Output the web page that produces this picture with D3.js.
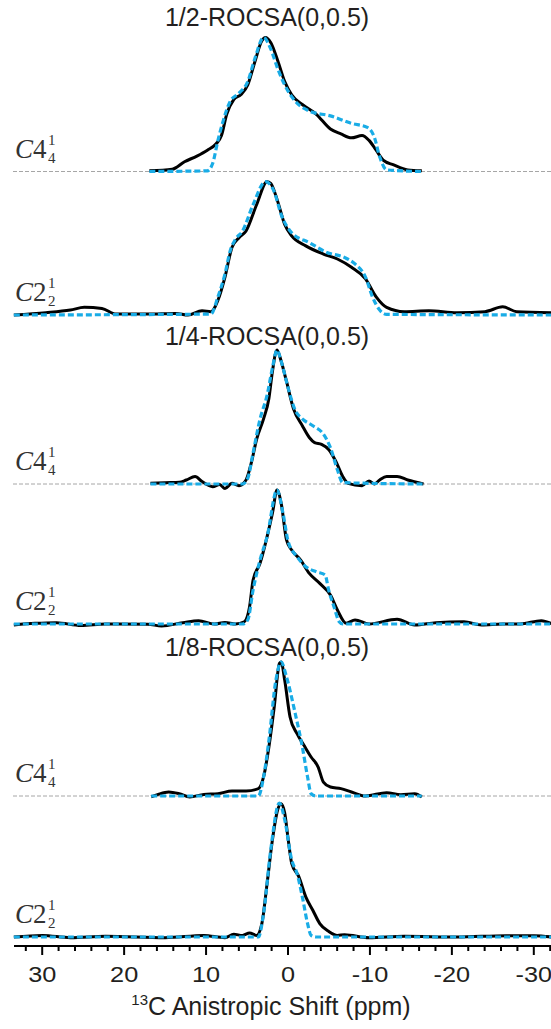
<!DOCTYPE html>
<html><head><meta charset="utf-8">
<script src="https://cdn.jsdelivr.net/npm/d3@7"></script>
<style>
html,body{margin:0;padding:0;background:#fff;}
svg{display:block;}
</style></head>
<body>
<svg id="chart" width="551" height="1029"></svg>
<script>
// ---------- DATA (ppm, normalised intensity) ----------
const titles = ["1/2-ROCSA(0,0.5)", "1/4-ROCSA(0,0.5)", "1/8-ROCSA(0,0.5)"];
const panelLabels = [["4","4","1"],["2","2","1"],["4","4","1"],["2","2","1"],["4","4","1"],["2","2","1"]];
const majorTicks = [30, 20, 10, 0, -10, -20, -30];
const minorTicks = [32,28,26,24,22,18,16,14,12,8,6,4,2,-2,-4,-6,-8,-12,-14,-16,-18,-22,-24,-26,-28,-32];
const xTitleSup = "13";
const xTitleMain = "C Anistropic Shift (ppm)";

const exp_half_C4 = [[16.86,0.005],[14.07,0.017],[12.57,0.073],[11.06,0.115],[9.78,0.159],[8.71,0.207],[8.06,0.268],[7.42,0.427],[6.56,0.537],[5.70,0.573],[4.85,0.646],[3.99,0.817],[3.13,0.976],[2.70,1.0],[2.05,0.963],[1.20,0.829],[0.34,0.671],[-0.51,0.573],[-1.81,0.5],[-3.52,0.427],[-5.24,0.317],[-6.52,0.28],[-7.81,0.251],[-9.10,0.268],[-9.95,0.232],[-10.82,0.159],[-11.67,0.085],[-12.96,0.049],[-14.68,0.012],[-16.39,0.005]];
const sim_half_C4 = [[16.86,0],[9.78,0.005],[9.13,0.061],[8.49,0.232],[7.85,0.378],[6.99,0.524],[5.92,0.585],[4.85,0.671],[3.99,0.841],[2.92,1.0],[2.05,0.915],[1.20,0.768],[0.34,0.646],[-0.95,0.524],[-2.66,0.451],[-5.24,0.415],[-7.81,0.359],[-9.74,0.329],[-10.6,0.256],[-11.25,0.11],[-12.1,0.012],[-16.39,0]];

const exp_half_C2 = [[33.4,0],[29.5,0.017],[26.5,0.037],[24.8,0.057],[22.65,0.049],[20.93,0.007],[17.07,0.007],[13.64,0.012],[12.14,0],[10.43,0.032],[9.35,0.025],[8.49,0.11],[7.63,0.283],[6.78,0.504],[5.92,0.577],[5.06,0.627],[3.77,0.823],[2.49,0.995],[2.05,0.983],[1.20,0.848],[0.34,0.676],[-0.51,0.59],[-2.23,0.516],[-4.38,0.455],[-6.09,0.418],[-7.81,0.356],[-9.52,0.27],[-10.82,0.135],[-12.1,0.057],[-14.25,0.025],[-17.25,0.032],[-20.68,0.017],[-24.1,0.025],[-26.26,0.061],[-27.97,0.025],[-32.3,0.017]];
const sim_half_C2 = [[33.4,0],[9.35,0.007],[8.49,0.135],[7.63,0.307],[6.99,0.48],[6.35,0.565],[5.49,0.627],[4.2,0.823],[2.7,0.995],[1.63,0.921],[0.77,0.749],[-0.51,0.614],[-2.66,0.54],[-4.81,0.467],[-6.95,0.43],[-8.24,0.381],[-9.52,0.283],[-10.37,0.135],[-11.25,0.037],[-12.1,0.005],[-32.3,0]];

const exp_quarter_C4 = [[16.73,0.005],[14.93,0.01],[13.21,0.013],[12.35,0.03],[11.28,0.056],[10.43,0.018],[9.13,-0.02],[8.28,-0.003],[7.63,-0.033],[6.78,0.005],[5.92,-0.013],[5.06,0.03],[4.42,0.157],[3.77,0.334],[2.92,0.486],[2.27,0.638],[1.84,0.84],[1.28,1.0],[0.77,0.916],[0.12,0.765],[-0.73,0.562],[-1.81,0.435],[-2.66,0.347],[-3.31,0.309],[-4.16,0.296],[-5.02,0.258],[-5.89,0.17],[-6.74,0.056],[-7.39,0.005],[-9.1,-0.013],[-9.95,0.023],[-10.6,0],[-11.25,0.03],[-12.1,0.056],[-13.38,0.056],[-14.68,0.03],[-16.6,0]];
const sim_quarter_C4 = [[16.73,0],[5.49,0],[4.85,0.043],[4.2,0.233],[3.35,0.486],[2.49,0.663],[1.84,0.866],[1.28,1.0],[0.77,0.916],[-0.09,0.714],[-0.95,0.549],[-1.81,0.486],[-3.09,0.435],[-4.38,0.372],[-5.24,0.271],[-6.09,0.106],[-6.74,0.01],[-16.6,0]];

const exp_quarter_C2 = [[33.4,-0.007],[30.8,0.005],[28.2,0.01],[25.2,-0.012],[22.2,0],[17.07,-0.002],[15.36,-0.015],[12.78,0.01],[10.85,0.025],[8.92,0],[7.63,0.012],[6.35,0],[5.27,0.017],[4.63,0.129],[4.2,0.328],[3.35,0.453],[2.49,0.652],[1.84,0.826],[1.28,1.0],[0.77,0.9],[0.12,0.627],[-0.51,0.552],[-1.59,0.478],[-2.66,0.378],[-3.94,0.303],[-5.24,0.216],[-6.09,0.104],[-7.17,0.005],[-8.24,0.03],[-9.95,0],[-13.38,0.035],[-15.53,-0.007],[-18.1,0.01],[-21.54,0.017],[-23.69,-0.007],[-26.26,0],[-28.4,0],[-30.98,0.025],[-32.3,0]];
const sim_quarter_C2 = [[33.4,0],[5.49,0],[4.85,0.03],[4.2,0.254],[3.35,0.478],[2.49,0.652],[1.28,1.0],[0.55,0.826],[-0.09,0.614],[-1.16,0.502],[-2.23,0.428],[-3.52,0.39],[-4.59,0.366],[-5.02,0.254],[-5.67,0.129],[-6.31,0.017],[-6.74,0],[-32.3,0]];

const exp_eighth_C4 = [[16.64,-0.007],[15.78,0.012],[14.5,0.03],[13.21,0.017],[11.93,-0.007],[10.21,0.012],[8.49,0.017],[6.78,0.037],[5.06,0.037],[3.55,0.055],[2.92,0.142],[2.27,0.366],[1.62,0.664],[0.99,0.988],[0.77,1.0],[0.34,0.863],[-0.31,0.59],[-1.16,0.465],[-2.01,0.378],[-2.88,0.291],[-3.74,0.216],[-4.38,0.104],[-5.24,0.067],[-6.52,0.055],[-7.81,0.03],[-9.52,0],[-12.1,0.025],[-13.82,0.01],[-15.53,0.017],[-16.39,-0.007]];
const sim_eighth_C4 = [[16.64,0],[3.55,0],[2.92,0.142],[2.27,0.415],[1.42,0.863],[0.77,1.0],[0.12,0.888],[-0.95,0.614],[-1.81,0.366],[-2.45,0.142],[-2.88,0.017],[-3.5,0],[-16.39,0]];

const exp_eighth_C2 = [[33.4,0],[29.9,0.012],[26.5,-0.005],[22.2,0.005],[14.93,-0.005],[10.21,0.012],[7.63,-0.005],[6.56,0.02],[5.49,0.012],[4.63,0.03],[3.77,0.012],[3.13,0.1],[2.49,0.4],[1.84,0.725],[1.2,0.95],[0.77,0.995],[0.34,0.925],[-0.09,0.725],[-0.51,0.55],[-1.38,0.45],[-2.23,0.3],[-3.09,0.2],[-3.94,0.1],[-5.02,0.042],[-6.09,0.012],[-6.95,0.017],[-9.95,-0.005],[-14.25,0.005],[-20.68,0],[-26.7,0.01],[-30.1,0.01],[-32.3,0]];
const sim_eighth_C2 = [[33.4,0],[3.55,0],[2.92,0.175],[2.05,0.65],[0.99,1.0],[0.34,0.875],[-0.51,0.575],[-1.16,0.475],[-1.81,0.3],[-2.45,0.1],[-2.88,0.012],[-3.5,0],[-32.3,0]];

const experimental = [exp_half_C4, exp_half_C2, exp_quarter_C4, exp_quarter_C2, exp_eighth_C4, exp_eighth_C2];
const simulated = [sim_half_C4, sim_half_C2, sim_quarter_C4, sim_quarter_C2, sim_eighth_C4, sim_eighth_C2];

// ---------- LAYOUT ----------
const W = 551, H = 1029;
const baselines = [171.5, 315, 484, 624, 796, 937];
const titleY = [26, 345, 656];
const panelH = 134;
const axisY = 946;
const svg = d3.select("#chart");

const x = d3.scaleLinear().domain([30, -30]).range([41.7, 533.3]);
const BLUE = "#19ace6";

// titles
svg.selectAll("text.title").data(titles).join("text")
  .attr("class", "title")
  .attr("x", 267).attr("y", (d, i) => titleY[i])
  .attr("text-anchor", "middle")
  .attr("font-family", "Liberation Sans, Arial, Helvetica, sans-serif")
  .attr("font-size", 25).attr("fill", "#231f20")
  .text(d => d);

experimental.forEach((exp, i) => {
  const b = baselines[i];
  const y = d3.scaleLinear().domain([0, 1]).range([b, b - panelH]);
  const g = svg.append("g");
  const isC4 = panelLabels[i][0] === "4";
  if (isC4) {
    g.append("line").attr("x1", 13).attr("x2", W).attr("y1", b).attr("y2", b)
      .attr("stroke", "#a6a6a6").attr("stroke-width", 1).attr("stroke-dasharray", "4,2");
  }
  const line = d3.line().x(d => x(d[0])).y(d => y(d[1])).curve(d3.curveMonotoneX);
  g.append("path").attr("d", line(exp)).attr("fill", "none")
    .attr("stroke", "#000").attr("stroke-width", 3).attr("stroke-linejoin", "round");
  g.append("path").attr("d", line(simulated[i])).attr("fill", "none")
    .attr("stroke", BLUE).attr("stroke-width", 3.2).attr("stroke-dasharray", "6,3");

  // label  C n_n^1
  const lab = panelLabels[i];
  const ly = b - 14;
  const serif = "Liberation Serif, Times New Roman, serif";
  g.append("text").attr("x", 15).attr("y", ly)
    .attr("font-family", serif).attr("font-size", 27).attr("fill", "#333")
    .call(t => { t.append("tspan").attr("font-style", "italic").text("C"); t.append("tspan").text(lab[0]); });
  g.append("text").attr("x", 48).attr("y", ly - 13)
    .attr("font-family", serif).attr("font-size", 15).attr("fill", "#333").text(lab[2]);
  g.append("text").attr("x", 48).attr("y", ly + 5)
    .attr("font-family", serif).attr("font-size", 15).attr("fill", "#333").text(lab[1]);
});

// axis
const axG = svg.append("g").attr("transform", `translate(0,${axisY})`);
axG.append("line").attr("x1", 14).attr("x2", W).attr("y1", 0).attr("y2", 0)
  .attr("stroke", "#000").attr("stroke-width", 2);
const minorAxis = d3.axisBottom(x).tickValues(minorTicks).tickSize(5).tickFormat("");
const majorAxis = d3.axisBottom(x).tickValues(majorTicks).tickSize(9).tickPadding(11).tickFormat(d => String(d));
const gMinor = axG.append("g").call(minorAxis);
const gMajor = axG.append("g").call(majorAxis);
[gMinor, gMajor].forEach(gg => {
  gg.select(".domain").remove();
  gg.selectAll(".tick line").attr("stroke", "#000").attr("stroke-width", 2);
});
gMajor.selectAll(".tick text")
  .attr("font-family", "Liberation Sans, Arial, Helvetica, sans-serif")
  .attr("font-size", 22).attr("fill", "#231f20")
  .attr("transform", "scale(1.15,1)");

// x title
const xt = svg.append("text").attr("x", 271).attr("y", 1015)
  .attr("text-anchor", "middle")
  .attr("font-family", "Liberation Sans, Arial, Helvetica, sans-serif")
  .attr("font-size", 25).attr("fill", "#231f20");
xt.append("tspan").attr("font-size", 15).attr("dy", -10).text(xTitleSup);
xt.append("tspan").attr("dy", 10).text(xTitleMain);
</script>
</body></html>
